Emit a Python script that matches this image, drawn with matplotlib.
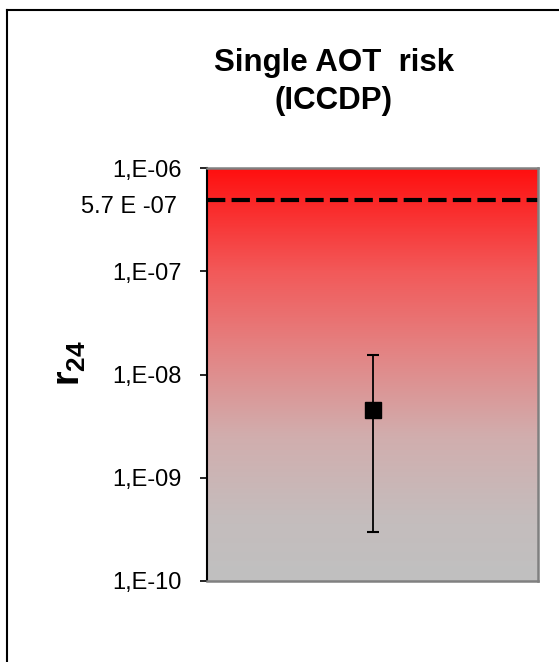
import numpy as np
import matplotlib
matplotlib.use("Agg")
import matplotlib.pyplot as plt
from matplotlib.colors import LinearSegmentedColormap
from matplotlib.lines import Line2D

plt.rcParams['font.family'] = ['Liberation Sans', 'DejaVu Sans']
plt.rcParams['mathtext.fontset'] = 'custom'
plt.rcParams['mathtext.rm'] = 'Liberation Sans'
plt.rcParams['mathtext.bf'] = 'Liberation Sans:bold'

# ---- data ----
categories = ["ICCDP"]
risk_values = [4.5e-9]
risk_upper = [1.55e-8]
risk_lower = [3.0e-10]
threshold = 4.9e-7
threshold_label = "5.7 E -07"
ytick_values = [1e-10, 1e-9, 1e-8, 1e-7, 1e-6]
ytick_labels = ["1,E-10", "1,E-09", "1,E-08", "1,E-07", "1,E-06"]
title_text = "Single AOT  risk\n(ICCDP)"

fig = plt.figure(figsize=(5.59, 6.62), dpi=100)
W, H = 559, 662
ax = fig.add_axes([207 / W, 1 - 581 / H, (538 - 207) / W, (581 - 168) / H])

# gradient background
cmap = LinearSegmentedColormap.from_list(
    "rg",
    [(0.0, (0.753, 0.753, 0.753)),
     (0.15, (0.77, 0.74, 0.74)),
     (0.35, (0.82, 0.68, 0.68)),
     (0.55, (0.89, 0.52, 0.52)),
     (0.75, (0.95, 0.35, 0.35)),
     (1.0, (1.0, 0.06, 0.06))])
grad = np.linspace(0, 1, 256).reshape(-1, 1)
ax.imshow(grad, extent=[0, 1, 0, 1], transform=ax.transAxes, aspect='auto',
          origin='lower', cmap=cmap, zorder=0)

ax.set_yscale('log')
ax.set_ylim(1e-10, 1e-6)
ax.set_xlim(-0.5, 0.5)

x = np.arange(len(categories))
vals = np.array(risk_values)
yerr = np.array([vals - np.array(risk_lower), np.array(risk_upper) - vals])
ax.errorbar(x, vals, yerr=yerr, fmt='s', color='black', markersize=11,
            ecolor='black', elinewidth=1.3, capsize=4.5, capthick=1.5, zorder=3)

ax.axhline(threshold, color='black', linestyle=(0, (4.4, 1.5)), linewidth=3, zorder=2)

ax.set_yticks(ytick_values)
ax.set_yticklabels(ytick_labels)
ax.minorticks_off()
ax.set_xticks([])
ax.tick_params(axis='y', length=5, width=1.2, pad=13, labelsize=17, colors='black')

ax.text(-0.09, 4.2e-7, threshold_label, transform=ax.get_yaxis_transform(),
        ha='right', va='center', fontsize=17)

for s in ['top', 'right', 'bottom']:
    ax.spines[s].set_color('#808080')
    ax.spines[s].set_linewidth(1.8)
ax.spines['left'].set_color('black')
ax.spines['left'].set_linewidth(1.5)

fig.text(70 / W, 1 - 363 / H, r'$\mathbf{r_{24}}$', rotation=90,
         ha='center', va='center', fontsize=27)

fig.text(334 / W, 1 - 82 / H, title_text, ha='center', va='center',
         fontsize=22.5, fontweight='bold', linespacing=1.35)

# outer frame (top and left edges visible)
fig.add_artist(Line2D([7 / W, 1.0], [1 - 10 / H, 1 - 10 / H], transform=fig.transFigure,
                      color='black', linewidth=1.5))
fig.add_artist(Line2D([7 / W, 7 / W], [0, 1 - 10 / H], transform=fig.transFigure,
                      color='black', linewidth=1.5))

fig.savefig("out.png", dpi=100)
